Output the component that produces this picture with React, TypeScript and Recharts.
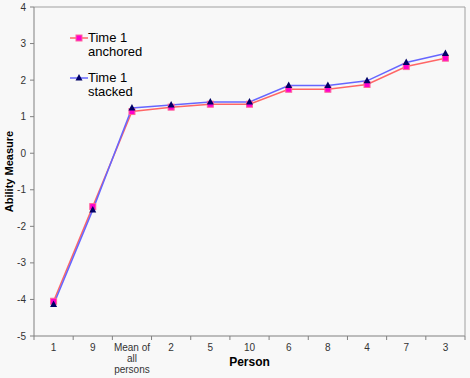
import React from 'react'
import { LineChart, Line, XAxis, YAxis, Legend } from 'recharts'

const persons = ['1', '9', 'Mean of all persons', '2', '5', '10', '6', '8', '4', '7', '3']
const anchored = [-4.05, -1.46, 1.14, 1.26, 1.34, 1.34, 1.75, 1.75, 1.88, 2.37, 2.6]
const stacked = [-4.14, -1.55, 1.24, 1.32, 1.4, 1.4, 1.85, 1.85, 1.98, 2.48, 2.73]
const yTicks = [-5, -4, -3, -2, -1, 0, 1, 2, 3, 4]

const data = persons.map((p, i) => ({ person: p, anchored: anchored[i], stacked: stacked[i] }))

const FONT = '"Liberation Sans", Arial, sans-serif'

const Square = (props: any) => {
    const { cx, cy } = props
    if (cx == null || cy == null) return null
    return <rect x={cx - 3} y={cy - 3} width={6} height={6} fill="#ff00cc" stroke="#ff6699" strokeWidth={1} />
}

const Triangle = (props: any) => {
    const { cx, cy } = props
    if (cx == null || cy == null) return null
    return <path d={`M${cx},${cy - 4}L${cx + 3.5},${cy + 2.5}L${cx - 3.5},${cy + 2.5}Z`} fill="#000066" />
}

// label at band centre, tick marks on the band edges (Excel style)
const PersonTick = (props: any) => {
    const { x, y, payload, index, visibleTicksCount } = props
    const half = payload.offset || 0
    const lines = payload.value === 'Mean of all persons' ? ['Mean of', 'all', 'persons'] : [payload.value]
    return (
        <g>
            <line x1={x - half} y1={y} x2={x - half} y2={y + 4} stroke="#808080" />
            {index === visibleTicksCount - 1 && (
                <line x1={x + half} y1={y} x2={x + half} y2={y + 4} stroke="#808080" />
            )}
            <text x={x} y={y} textAnchor="middle" fontSize={10} fill="#333" fontFamily={FONT}>
                {lines.map((l, i) => (
                    <tspan key={i} x={x} dy={i === 0 ? 15 : 11}>{l}</tspan>
                ))}
            </text>
        </g>
    )
}

const YLabel = (props: any) => {
    const { viewBox } = props
    const x = viewBox.x + 10
    const y = viewBox.y + viewBox.height / 2
    return (
        <text x={x} y={y} transform={`rotate(-90, ${x}, ${y})`} textAnchor="middle" dominantBaseline="middle"
            fontSize={11} fontWeight="bold" fill="#000" fontFamily={FONT}>
            Ability Measure
        </text>
    )
}

const XLabel = (props: any) => {
    const { viewBox } = props
    return (
        <text x={viewBox.x + viewBox.width / 2} y={viewBox.y + 30} textAnchor="middle"
            fontSize={12} fontWeight="bold" fill="#000" fontFamily={FONT}>
            Person
        </text>
    )
}

const legendItems = [
    { label: ['Time 1', 'anchored'], color: '#ff6666', Marker: Square },
    { label: ['Time 1', 'stacked'], color: '#6666ff', Marker: Triangle },
]

const ChartLegend = () => (
    <div style={{ fontFamily: FONT, fontSize: 13, lineHeight: '14px', color: '#000' }}>
        {legendItems.map((it, i) => (
            <div key={i} style={{ display: 'flex', alignItems: 'flex-start', marginBottom: 12 }}>
                <svg width={18} height={14} style={{ display: 'block' }}>
                    <line x1={0} y1={7} x2={18} y2={7} stroke={it.color} strokeWidth={1.5} />
                    <it.Marker cx={9} cy={7} />
                </svg>
                <div>
                    {it.label.map((t, j) => <div key={j}>{t}</div>)}
                </div>
            </div>
        ))}
    </div>
)

export default function App() {
    return (
        <div style={{ position: 'absolute', left: 0, top: 0, width: 470, height: 378, background: '#f8f8f8' }}>
            <LineChart width={470} height={378} data={data} margin={{ top: 0, right: 0, left: 0, bottom: 0 }}>
                <XAxis xAxisId="top" orientation="top" height={7} tick={false} tickLine={false}
                    axisLine={{ stroke: '#a0a0a0' }} />
                <XAxis xAxisId="cat" dataKey="person" scale="band" height={42} interval={0}
                    tickLine={false} axisLine={{ stroke: '#808080' }} tickSize={0} tickMargin={0}
                    tick={<PersonTick />} label={<XLabel />} />
                <YAxis domain={[-5, 4]} ticks={yTicks} interval={0} width={34}
                    tick={{ fontSize: 10, fill: '#333', fontFamily: FONT }} tickSize={4} tickMargin={4}
                    tickLine={{ stroke: '#808080' }} axisLine={{ stroke: '#808080' }} label={<YLabel />} />
                <YAxis yAxisId="right" orientation="right" width={5} tick={false} tickLine={false}
                    axisLine={{ stroke: '#a0a0a0' }} />
                <Legend layout="vertical" align="center" verticalAlign="middle" content={<ChartLegend />}
                    wrapperStyle={{ left: 70, top: 31, width: 'auto' }} />
                <Line xAxisId="cat" dataKey="anchored" stroke="#ff6666" strokeWidth={1.5}
                    dot={<Square />} activeDot={false} isAnimationActive={false} />
                <Line xAxisId="cat" dataKey="stacked" stroke="#6666ff" strokeWidth={1.5}
                    dot={<Triangle />} activeDot={false} isAnimationActive={false} />
            </LineChart>
        </div>
    )
}
